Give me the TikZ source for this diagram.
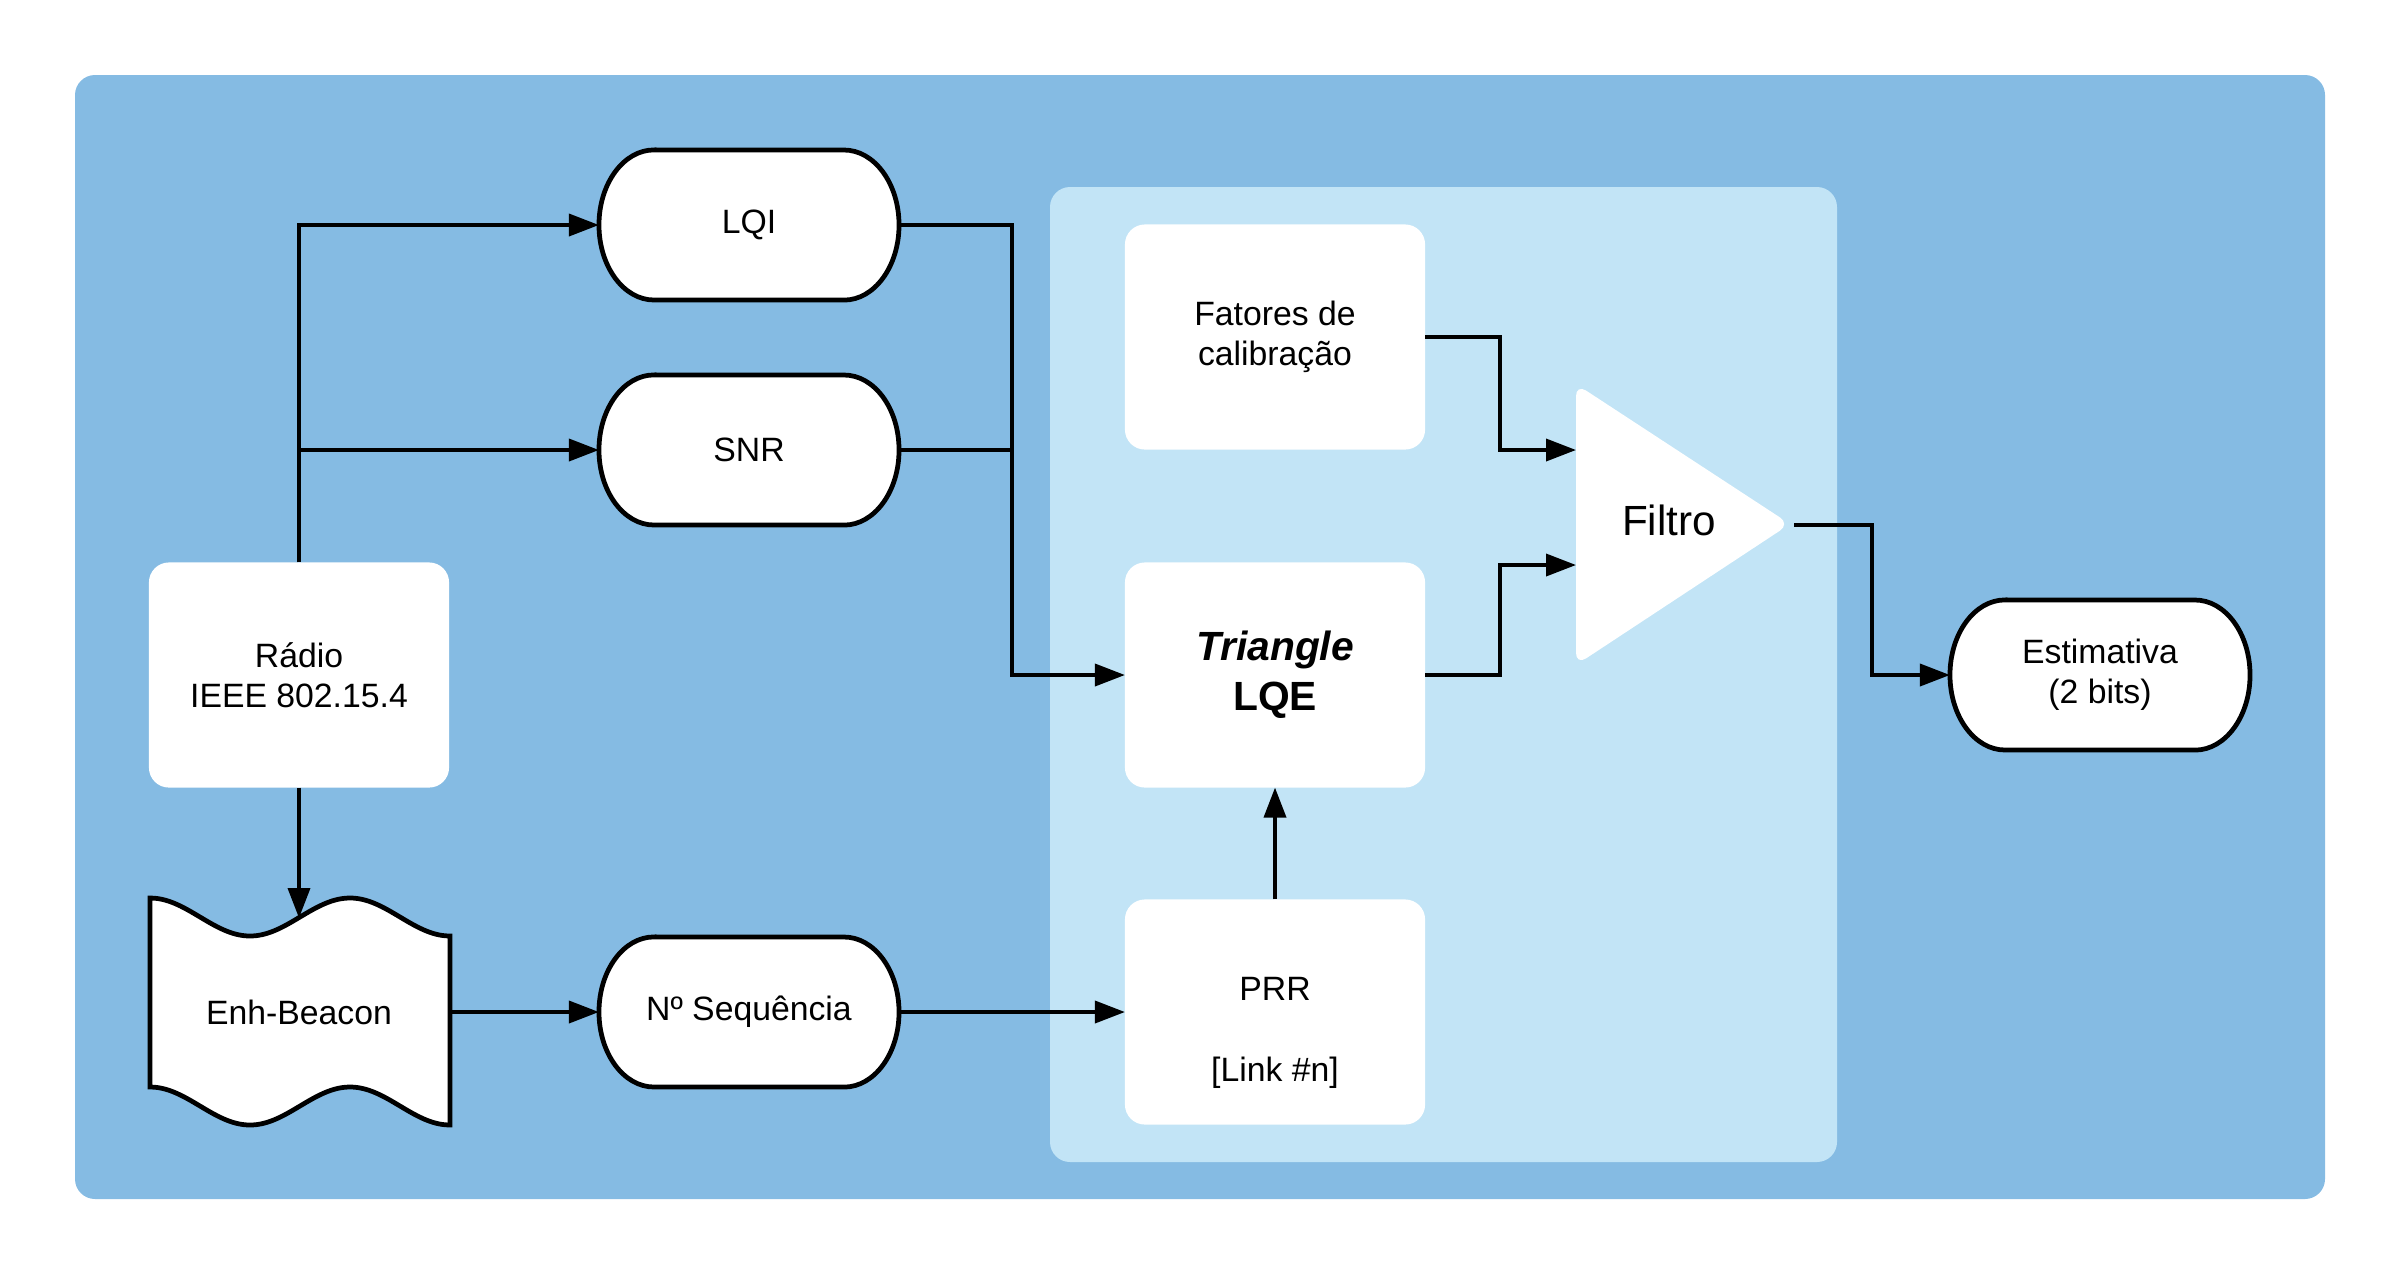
\documentclass[tikz,border=0pt]{standalone}
\usepackage{fontspec}
\setmainfont{Liberation Sans}
\usetikzlibrary{arrows.meta}
\definecolor{outerblue}{HTML}{85BBE3}
\definecolor{panelblue}{HTML}{C2E4F6}
\tikzset{
  txt/.style={align=center, font=\fontsize{9.6}{11.4}\selectfont},
  box/.style={txt, fill=white, rounded corners=0.2cm, minimum width=3cm, minimum height=2.25cm, inner sep=0pt, outer sep=0pt},
  capsule/.style={txt, minimum width=3cm, minimum height=1.5cm, inner sep=0pt, outer sep=0pt},
  border/.style={draw=black, line width=1.35pt, fill=white},
  link/.style={line width=1.05pt},
  flow/.style={link, -{Triangle[length=3mm, width=2.2mm]}}
}
% capsule with elliptic ends: name, x, y, text
\newcommand{\capsulenode}[4]{%
  \draw[border] ({#2-95},{#3-75}) -- ({#2+95},{#3-75})
    arc[start angle=90, end angle=-90, x radius=0.55cm, y radius=0.75cm]
    -- ({#2-95},{#3+75})
    arc[start angle=270, end angle=90, x radius=0.55cm, y radius=0.75cm] -- cycle;
  \node[capsule] (#1) at (#2,#3) {#4};}
\begin{document}
\begin{tikzpicture}[x=0.01cm, y=-0.01cm]
  \useasboundingbox (0,0) rectangle (2400,1275);
  \fill[outerblue, rounded corners=0.2cm] (75,75) rectangle (2325,1199);
  \fill[panelblue, rounded corners=0.2cm] (1050,187) rectangle (1837,1162);

  % left column
  \node[box] (radio) at (299,675) {Rádio\\IEEE 802.15.4};
  \draw[border] plot[domain=150:450, samples=60, smooth] (\x,{917-19*cos(1.8*(\x-150))})
    -- plot[domain=450:150, samples=60, smooth] (\x,{1106-19*cos(1.8*(\x-150))}) -- cycle;
  \node[capsule] (beacon) at (299,1012) {Enh-Beacon};
  \coordinate (beacontop) at (299,918);

  % measures
  \capsulenode{lqi}{749}{225}{LQI}
  \capsulenode{snr}{749}{450}{SNR}
  \capsulenode{seq}{749}{1012}{Nº Sequência}

  % estimator
  \node[box] (fatores) at (1275,337) {Fatores de\\calibração};
  \node[box, font=\bfseries\fontsize{11.6}{14.2}\selectfont] (lqe) at (1275,675) {\textit{Triangle}\\LQE};
  \node[box] (prr) at (1275,1012) {\mbox{}\\[7pt]PRR\\[11.6pt]{[Link \#n]}};

  % filter
  \fill[white, rounded corners=0.12cm] (1576,384) -- (1790,524) -- (1576,665) -- cycle;
  \node[txt, font=\fontsize{12}{14}\selectfont] (filtro) at (1669,520) {Filtro};
  \coordinate (fin1) at (1576,450);
  \coordinate (fin2) at (1576,565);
  \coordinate (fout) at (1794,525);
  \capsulenode{est}{2100}{675}{Estimativa\\(2 bits)}

  % connectors
  \coordinate (jn) at (1012,450);
  \draw[flow] (radio.north) |- (lqi.west);
  \draw[flow] (radio.north |- snr.west) -- (snr.west);
  \draw[flow] (radio.south) -- (beacontop);
  \draw[link] (lqi.east) -| (jn);
  \draw[flow] (snr.east) -- (jn) |- (lqe.west);
  \draw[flow] (beacon.east) -- (seq.west);
  \draw[flow] (seq.east) -- (prr.west);
  \draw[flow] (prr.north) -- (lqe.south);
  \draw[flow] (fatores.east) -- ++(75,0) |- (fin1);
  \draw[flow] (lqe.east) -- ++(75,0) |- (fin2);
  \draw[flow] (fout) -- ++(78,0) |- (est.west);
\end{tikzpicture}
\end{document}
